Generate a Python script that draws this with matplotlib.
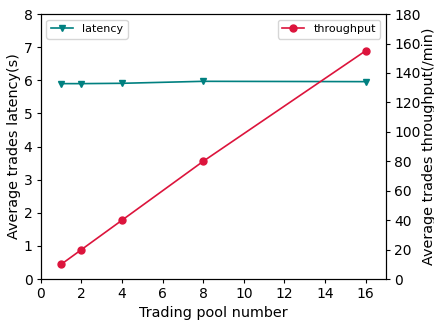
import numpy as np
import matplotlib
matplotlib.use("Agg")
import matplotlib.pyplot as plt

# data
pool_num = [1, 2, 4, 8, 16]
latency = [5.9, 5.9, 5.91, 5.97, 5.96]
throughput = [10, 20, 40, 80, 155]

plt.rcParams["font.size"] = 10
plt.rcParams["axes.labelsize"] = 10.4
plt.rcParams["xtick.major.size"] = 3
plt.rcParams["ytick.major.size"] = 3
plt.rcParams["xtick.major.pad"] = 3
plt.rcParams["ytick.major.pad"] = 3

fig, ax1 = plt.subplots(figsize=(4.35, 3.2), dpi=100)
ax1.plot(pool_num, latency, color="teal", marker="v", markersize=5,
         linewidth=1.2, label="latency")
ax1.set_xlim(0, 17)
ax1.set_ylim(0, 8)
ax1.set_xticks(np.arange(0, 17, 2))
ax1.set_xlabel("Trading pool number", labelpad=3)
ax1.set_ylabel("Average trades latency(s)", labelpad=2)
ax1.legend(loc="upper left", fontsize=8)

ax2 = ax1.twinx()
ax2.plot(pool_num, throughput, color="crimson", marker="o", markersize=5,
         linewidth=1.2, label="throughput")
ax2.set_ylim(0, 180)
ax2.set_yticks(np.arange(0, 181, 20))
ax2.set_ylabel("Average trades throughput(/min)", labelpad=1)
ax2.legend(loc="upper right", fontsize=8)

fig.subplots_adjust(left=0.094, right=0.887, top=0.956, bottom=0.128)
plt.savefig("out.png")
